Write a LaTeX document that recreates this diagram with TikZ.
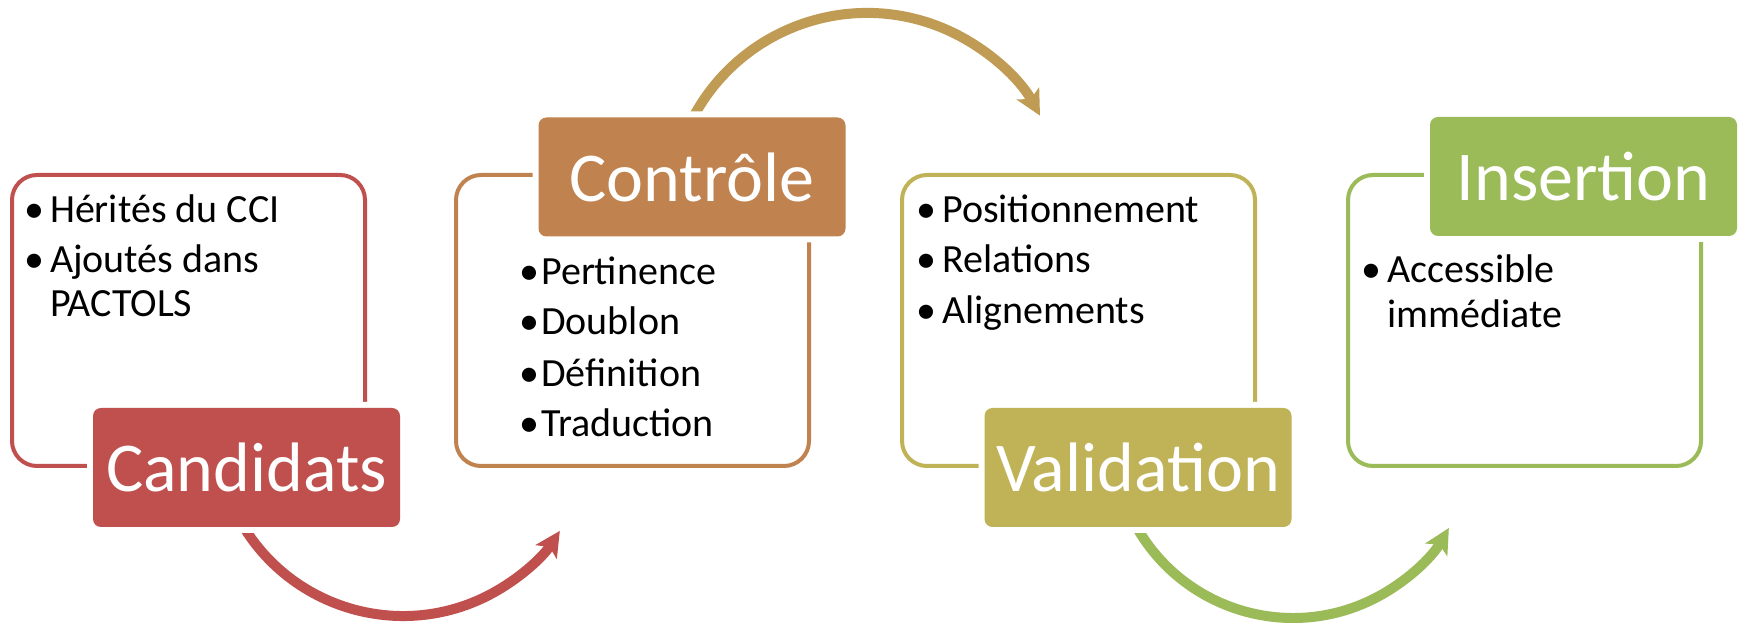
\documentclass[tikz,border=0pt]{standalone}
\usepackage{fontspec}
\setmainfont{Carlito}
\usetikzlibrary{arrows.meta}
\definecolor{candred}{HTML}{C0504D}
\definecolor{ctrlorange}{HTML}{C0834F}
\definecolor{ctrlarrow}{HTML}{BF9B53}
\definecolor{validolive}{HTML}{C0B257}
\definecolor{insgreen}{HTML}{9BBB59}
\newcommand{\blt}[1][6pt]{\llap{\textbullet\hspace{#1}}}

\begin{document}
\begin{tikzpicture}[x=1pt,y=1pt,
    frame/.style={draw=#1,line width=4pt,rounded corners=25pt},
    stage/.style={fill=#1,rounded corners=8pt,inner sep=0pt,text=white,
      minimum width=307pt,minimum height=119pt,
      font=\fontsize{70}{84}\selectfont,
      preaction={draw=white,line width=12pt}},
    item/.style={anchor=base west,inner sep=0pt,font=\fontsize{40}{44}\selectfont},
    turn/.style={draw=#1,line width=10pt,
      -{Stealth[length=25pt,width=25pt,inset=6pt]}}]
  \useasboundingbox (0,0) rectangle (1744,623);
  % arrows from one stage to the next
  \coordinate (go1) at (237.9,106.2);
  \coordinate (go2) at (688.5,496.3);
  \coordinate (go3) at (1132.6,103.3);
  \draw[turn=candred] (go1) arc[start angle=208,end angle=327,radius=187];
  \draw[turn=ctrlarrow] (go2) arc[start angle=155,end angle=28.6,radius=197];
  \draw[turn=insgreen] (go3) arc[start angle=207,end angle=330,radius=180];
  % frames and stage labels
  \foreach \n/\col/\fx/\lx/\ly/\t in {%
    cand/candred/12/246.5/155.5/Candidats,
    ctrl/ctrlorange/456/692/446/Contrôle,
    valid/validolive/902/1138/155.5/Validation,
    ins/insgreen/1348/1583.5/446.5/Insertion}{%
      \draw[frame=\col] (\fx,157) rectangle ++(353,291);
      \node[stage=\col] (\n) at (\lx,\ly) {\t};
    }
  % bullet texts
  \foreach \n/\x/\y/\t in {%
    c1/50/400/{\blt Hérités du CCI},
    c2/50/350/{\blt Ajoutés dans},
    c3/50/306/PACTOLS,
    k1/541/338/{\blt[2pt]Pertinence},
    k2/541/288/{\blt[2pt]Doublon},
    k3/541/236/{\blt[2pt]Définition},
    k4/541/186/{\blt[2pt]Traduction},
    v1/942/400/{\blt Positionnement},
    v2/942/350/{\blt Relations},
    v3/942/299/{\blt Alignements},
    i1/1387/340/{\blt Accessible},
    i2/1387/295/immédiate}{%
      \node[item] (\n) at (\x,\y) {\t};
    }
\end{tikzpicture}
\end{document}
